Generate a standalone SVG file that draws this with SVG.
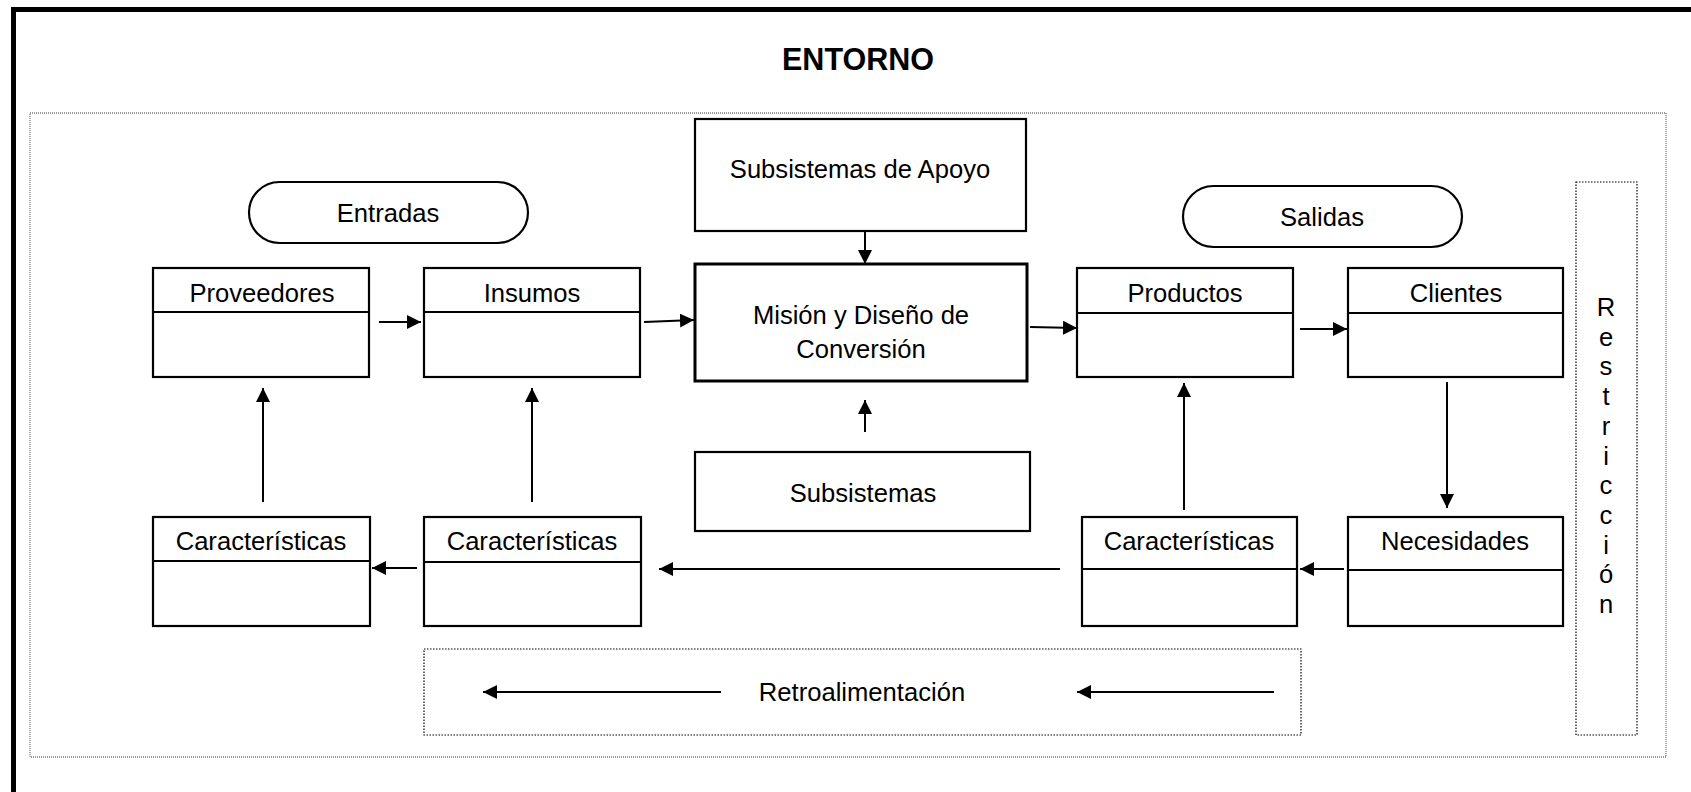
<svg xmlns="http://www.w3.org/2000/svg" width="1691" height="792" viewBox="0 0 1691 792">
<defs>
<style>
.t{font-family:"Liberation Sans",Arial,sans-serif;font-size:25.6px;fill:#000;text-anchor:middle}
.b{fill:#fff;stroke:#000;stroke-width:2.2}
.d{fill:none;stroke:#000;stroke-width:1.2;stroke-dasharray:1.5 1.5}
.c{fill:none;stroke:#000;stroke-width:2;marker-end:url(#ah)}
</style>
<marker id="ah" markerUnits="userSpaceOnUse" markerWidth="15" markerHeight="14" refX="14" refY="7" orient="auto">
<path d="M0,0 L14,7 L0,14 z" fill="#000"/>
</marker>
</defs>
<rect width="1691" height="792" fill="#fff"/>
<path d="M13.5,792 V9.5 H1691" fill="none" stroke="#000" stroke-width="5"/>
<text x="858" y="70" class="t" style="font-weight:bold;font-size:30.5px">ENTORNO</text>
<rect x="30" y="113" width="1636" height="644" fill="none" stroke="#777" stroke-width="1.3" stroke-dasharray="1 1"/>

<g id="apoyo"><rect class="b" x="695" y="119" width="331" height="112"/><text class="t" x="860" y="178">Subsistemas de Apoyo</text></g>
<g id="mision"><rect class="b" x="695" y="264" width="332" height="117" style="stroke-width:3"/><text class="t" x="861" y="324">Misión y Diseño de</text><text class="t" x="861" y="358">Conversión</text></g>
<g id="subsistemas"><rect class="b" x="695" y="452" width="335" height="79"/><text class="t" x="863" y="502">Subsistemas</text></g>
<g id="entradas"><rect class="b" x="249" y="182" width="279" height="61" rx="30.5"/><text class="t" x="388" y="222">Entradas</text></g>
<g id="salidas"><rect class="b" x="1183" y="186" width="279" height="61" rx="30.5"/><text class="t" x="1322" y="226">Salidas</text></g>

<g id="proveedores"><rect class="b" x="153" y="268" width="216" height="109"/><line x1="153" y1="312" x2="369" y2="312" stroke="#000" stroke-width="2"/><text class="t" x="262" y="302">Proveedores</text></g>
<g id="insumos"><rect class="b" x="424" y="268" width="216" height="109"/><line x1="424" y1="312" x2="640" y2="312" stroke="#000" stroke-width="2"/><text class="t" x="532" y="302">Insumos</text></g>
<g id="productos"><rect class="b" x="1077" y="268" width="216" height="109"/><line x1="1077" y1="313" x2="1293" y2="313" stroke="#000" stroke-width="2"/><text class="t" x="1185" y="302">Productos</text></g>
<g id="clientes"><rect class="b" x="1348" y="268" width="215" height="109"/><line x1="1348" y1="313" x2="1563" y2="313" stroke="#000" stroke-width="2"/><text class="t" x="1456" y="302">Clientes</text></g>

<g id="caract1"><rect class="b" x="153" y="517" width="217" height="109"/><line x1="153" y1="561" x2="370" y2="561" stroke="#000" stroke-width="2"/><text class="t" x="261" y="550">Características</text></g>
<g id="caract2"><rect class="b" x="424" y="517" width="217" height="109"/><line x1="424" y1="562" x2="641" y2="562" stroke="#000" stroke-width="2"/><text class="t" x="532" y="550">Características</text></g>
<g id="caract3"><rect class="b" x="1082" y="517" width="215" height="109"/><line x1="1082" y1="569" x2="1297" y2="569" stroke="#000" stroke-width="2"/><text class="t" x="1189" y="550">Características</text></g>
<g id="necesidades"><rect class="b" x="1348" y="517" width="215" height="109"/><line x1="1348" y1="570" x2="1563" y2="570" stroke="#000" stroke-width="2"/><text class="t" x="1455" y="550">Necesidades</text></g>

<g id="restriccion"><rect class="d" x="1576" y="182" width="61" height="553"/>
<text class="t" x="1606" y="316">R</text><text class="t" x="1606" y="346">e</text><text class="t" x="1606" y="375">s</text><text class="t" x="1606" y="405">t</text><text class="t" x="1606" y="435">r</text><text class="t" x="1606" y="465">i</text><text class="t" x="1606" y="494">c</text><text class="t" x="1606" y="524">c</text><text class="t" x="1606" y="554">i</text><text class="t" x="1606" y="583">ó</text><text class="t" x="1606" y="613">n</text></g>

<g id="retroalimentacion"><rect class="d" x="424" y="649" width="877" height="86"/><text class="t" x="862" y="701">Retroalimentación</text></g>

<g id="connectors">
<path class="c" d="M379,322 L421,322"/>
<path class="c" d="M644,322 L694,320"/>
<path class="c" d="M1030,327 L1077,328"/>
<path class="c" d="M1300,329 L1347,329"/>
<path class="c" d="M865,231 L865,264"/>
<path class="c" d="M865,432 L865,400"/>
<path class="c" d="M263,502 L263,388"/>
<path class="c" d="M532,502 L532,388"/>
<path class="c" d="M1184,510 L1184,383"/>
<path class="c" d="M1447,382 L1447,508"/>
<path class="c" d="M417,568 L372,568"/>
<path class="c" d="M1060,569 L659,569"/>
<path class="c" d="M1344,569 L1300,569"/>
<path class="c" d="M721,692 L483,692"/>
<path class="c" d="M1274,692 L1077,692"/>
</g>
</svg>
